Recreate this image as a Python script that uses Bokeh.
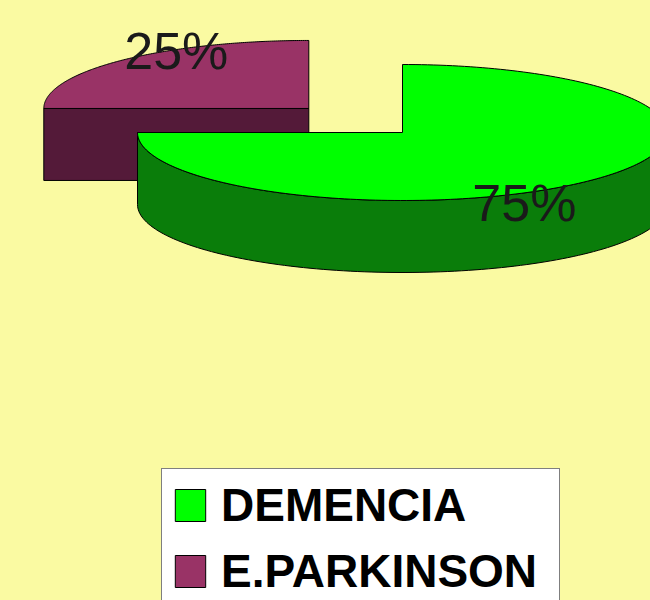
import numpy as np
from bokeh.plotting import figure
from bokeh.models import Range1d, Legend, LegendItem, ColumnDataSource, GlobalInlineStyleSheet
from bokeh.core.properties import value
from bokeh.embed import file_html
from bokeh.resources import INLINE

# ---- data ----
categories = ["DEMENCIA", "E.PARKINSON"]
values = [75, 25]
pct_labels = ["75%", "25%"]
top_colors = ["#00ff00", "#993366"]
side_colors = ["#0a7d0a", "#541a39"]
explode = [0.0, 0.5]

# ---- layout (pixel-like data space) ----
BG = "#fafaa2"
CX, CY = 402, 132
RX, RY = 265, 68
DEPTH = 72
label_off = [(0.46, -1.04), (-0.50, 0.85)]  # label position relative to slice centre (rx, ry units)

p = figure(width=650, height=600, output_backend="svg", toolbar_location=None,
           x_range=Range1d(0, 650), y_range=Range1d(600, 0),
           min_border=0, background_fill_color=BG, border_fill_color=BG,
           outline_line_color=None)
p.axis.visible = False
p.grid.visible = False
p.stylesheets = [GlobalInlineStyleSheet(css="html, body { background: %s; }" % BG)]


def pt(cx, cy, th, dy=0):
    return cx + RX * np.cos(th), cy - RY * np.sin(th) + dy


total = float(sum(values))
a = np.pi / 2
slices = []
for v, e in zip(values, explode):
    a0 = a
    a1 = a - 2 * np.pi * v / total
    mid = (a0 + a1) / 2
    cx = CX + e * RX * np.cos(mid)
    cy = CY - e * RY * np.sin(mid)
    slices.append((a0, a1, cx, cy))
    a = a1

# draw back-to-front: exploded (rear) slice first
order = [1, 0]
tops = {}
for i in order:
    a0, a1, cx, cy = slices[i]
    sx, sy = [], []
    # radial cut faces facing the viewer
    for ang, vis in ((a0, np.cos(a0) < -1e-9), (a1, np.cos(a1) > 1e-9)):
        if vis:
            ex, ey = pt(cx, cy, ang)
            sx.append([cx, ex, ex, cx])
            sy.append([cy, ey, ey + DEPTH, cy + DEPTH])
    # curved front side (angles with sin <= 0)
    lo = max(a1, -np.pi)
    hi = min(a0, 0.0)
    if hi > lo:
        th = np.linspace(lo, hi, 120)
        xs, ys = pt(cx, cy, th)
        sx.append(list(xs) + list(xs[::-1]))
        sy.append(list(ys) + list((ys + DEPTH)[::-1]))
    if sx:
        p.patches(sx, sy, fill_color=side_colors[i], line_color="black", line_width=1)
    th = np.linspace(a0, a1, 200)
    xs, ys = pt(cx, cy, th)
    tops[i] = p.patch([cx] + list(xs) + [cx], [cy] + list(ys) + [cy],
                      fill_color=top_colors[i], line_color="black", line_width=1)

# percentage labels
lx, ly = [], []
for i, (a0, a1, cx, cy) in enumerate(slices):
    lx.append(cx + label_off[i][0] * RX)
    ly.append(cy - label_off[i][1] * RY)
src = ColumnDataSource(dict(x=lx, y=ly, t=pct_labels))
p.text(x="x", y="y", text="t", source=src, text_font=value("Liberation Sans"),
       text_font_size="52px", text_color="#1a1a1a", text_align="center", text_baseline="middle")

legend = Legend(items=[LegendItem(label=categories[i], renderers=[tops[i]]) for i in range(len(categories))],
                location=(161, -8), orientation="vertical",
                background_fill_color="white", background_fill_alpha=1.0,
                border_line_color="black", border_line_width=1.5,
                label_text_font="Liberation Sans", label_text_font_style="bold",
                label_text_font_size="46px", label_text_color="black",
                glyph_width=38, glyph_height=40, label_standoff=12, label_width=329,
                padding=9, spacing=12, margin=0)
p.add_layout(legend)

open("out.html", "w").write(file_html(p, INLINE))
